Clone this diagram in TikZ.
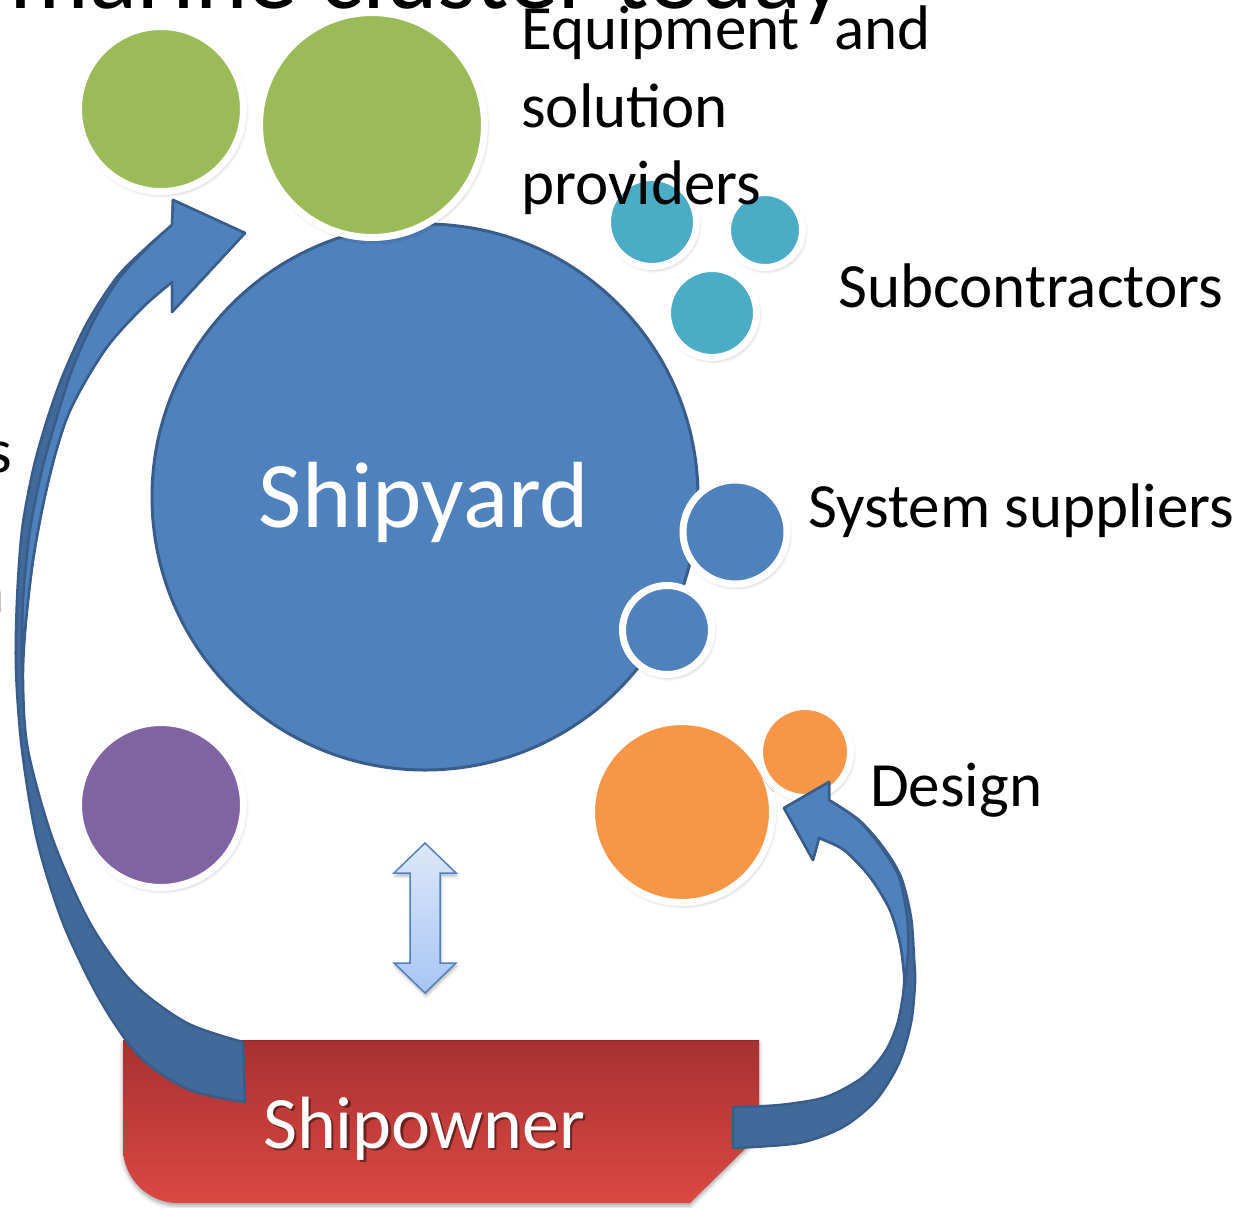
\documentclass[tikz,border=0pt]{standalone}
\usepackage{fontspec}
\setmainfont{Carlito}
\usetikzlibrary{shadows.blur}
\definecolor{shipblue}{HTML}{4F81BD}
\definecolor{shipborder}{HTML}{385D8A}
\definecolor{arrowdark}{HTML}{416999}
\definecolor{eqgreen}{HTML}{9BBB59}
\definecolor{subteal}{HTML}{4BACC6}
\definecolor{desorange}{HTML}{F79646}
\definecolor{purp}{HTML}{8064A2}
\definecolor{redtop}{HTML}{A63131}
\definecolor{redbot}{HTML}{DC4842}
\definecolor{rededge}{HTML}{8E2B2B}
\definecolor{dbltop}{HTML}{DDE8F9}
\definecolor{dblbot}{HTML}{A7C5F4}
\begin{document}
\begin{tikzpicture}[x=1pt,y=-1pt,
  bubble/.style={circle, draw=white, line width=7pt, inner sep=0pt, minimum size=#1pt,
    blur shadow={shadow xshift=1.5pt, shadow yshift=-2.5pt, shadow blur radius=4pt, shadow opacity=35}},
  lbl/.style={font=\fontsize{63}{77}\selectfont, anchor=base west, inner sep=0pt, text=black},
  ribbondark/.style={fill=arrowdark, draw=shipborder, line width=2.5pt, line join=round},
  ribbonlight/.style={fill=shipblue, draw=shipborder, line width=2.5pt, line join=round}]
\useasboundingbox (0,0) rectangle (1246,1207);
\clip (0,0) rectangle (1246,1207);

% partially visible title
\node[anchor=base east, inner sep=0pt, font=\fontsize{100}{110}\selectfont] (title) at (845,9) {marine cluster today};

% shipyard
\node[circle, minimum size=546pt, inner sep=0pt, fill=shipblue, draw=shipborder, line width=3pt] (yard) at (425,497) {};

% equipment and solution providers
\node[bubble=165, fill=eqgreen] (g1) at (161,109) {};
\node[bubble=225, fill=eqgreen] (g2) at (372,125) {};

% subcontractors
\node[bubble=89, fill=subteal] (t1) at (652,222) {};
\node[bubble=75, fill=subteal] (t2) at (765,230) {};
\node[bubble=89, fill=subteal] (t3) at (712,313) {};

% system suppliers
\node[bubble=104, fill=shipblue] (s1) at (735,532) {};
\node[bubble=89, fill=shipblue] (s2) at (667,630) {};

% purple
\node[bubble=165, fill=purp] (p1) at (161,805) {};

% design
\node[bubble=181, fill=desorange] (o1) at (682,812) {};
\node[bubble=91, fill=desorange] (o2) at (805,752) {};

% shipowner box
\path[blur shadow={shadow xshift=0pt, shadow yshift=-3pt, shadow blur radius=4pt, shadow opacity=35},
      top color=redtop, bottom color=redbot]
  (123,1040) -- (759,1040) -- (759,1135) -- (690,1203) -- (178,1203)
  .. controls (148,1203) and (123,1178) .. (123,1148) -- cycle;
\draw[rededge, line width=1pt] (123,1040.5) -- (759,1040.5);
\coordinate (ownerleft) at (245,1070);
\coordinate (ownerright) at (733,1127);

% double arrow
\draw[draw=shipblue, line width=1.5pt, line join=miter, top color=dbltop, bottom color=dblbot,
      blur shadow={shadow xshift=1pt, shadow yshift=-3pt, shadow blur radius=3pt, shadow opacity=30}]
  (425,843) -- (456,873) -- (440,873) -- (440,963) -- (456,963) -- (425,993)
  -- (394,963) -- (410,963) -- (410,873) -- (394,873) -- cycle;

% left curved arrow (dark back face)
\draw[ribbondark] plot[smooth] coordinates {(245,1102) (190,1090) (140,1057) (100,1000) (63,923) (37,840) (22,750) (16,670) (17,600) (22,530) (33,470) (47,420) (63,375) (87,323) (117,277) (147,247) (172,225)}
  -- (173,200) -- (245,233) -- (172,312) -- (172,282)
  -- plot[smooth] coordinates {(172,282) (143,307) (110,343) (86,380) (68,415) (55,455) (43,505) (33,560) (26,620) (23,680) (28,750) (53,840) (90,923) (133,983) (187,1023) (243,1042)}
  -- cycle;
% left curved arrow (light front face)
\draw[ribbonlight] plot[smooth] coordinates {(22,665) (23,600) (30,530) (42,470) (56,420) (72,370) (93,322) (118,280) (147,248) (172,225)}
  -- (173,200) -- (245,233) -- (172,312) -- (172,282)
  -- plot[smooth] coordinates {(172,282) (143,307) (110,343) (86,380) (68,415) (55,455) (43,505) (33,560) (26,620) (22,665)}
  -- cycle;

% right curved arrow (dark back face)
\draw[ribbondark] plot[smooth] coordinates {(733,1148) (799,1143) (843,1127) (876,1100) (899,1063) (911,1023) (915,983) (914,957) (911,917) (901,877) (883,847) (859,820) (829,800)}
  -- (829,782) -- (784,808) -- (813,860) -- (819,838)
  -- plot[smooth] coordinates {(819,838) (844,850) (870,877) (890,910) (900,943) (904,973) (903,995) (897,1025) (885,1052) (863,1077) (826,1097) (779,1105) (733,1107)}
  -- cycle;
% right curved arrow (light front face)
\draw[ribbonlight] plot[smooth] coordinates {(905,985) (908,950) (907,917) (899,877) (881,847) (858,820) (829,800)}
  -- (829,782) -- (784,808) -- (813,860) -- (819,838)
  -- plot[smooth] coordinates {(819,838) (844,850) (870,877) (890,910) (900,943) (904,973) (905,985)}
  -- cycle;

% texts
\node[anchor=base, inner sep=0pt, text=white, font=\fontsize{94}{110}\selectfont] (yardtxt) at (424,527) {Shipyard};
\node[anchor=base, inner sep=0pt, text=black, opacity=0.45, font=\fontsize{74}{90}\selectfont] (ownershadow) at (426.5,1150.5) {Shipowner};
\node[anchor=base, inner sep=0pt, text=white, font=\fontsize{74}{90}\selectfont] (owner) at (424,1148) {Shipowner};

\node[lbl] (eq1) at (521,50) {Equipment\kern20pt{} and};
\node[lbl] (eq2) at (521,127) {solution};
\node[lbl] (eq3) at (521,204) {providers};
\node[lbl] (subtxt) at (838,307) {Subcontractors};
\node[lbl] (systxt) at (808,527) {System suppliers};
\node[lbl] (destxt) at (870,806) {Design};
\node[lbl, anchor=base east] (cut1) at (12,472) {s};
\node[lbl, anchor=base east] (cut2) at (5,612) {n};
\end{tikzpicture}
\end{document}
